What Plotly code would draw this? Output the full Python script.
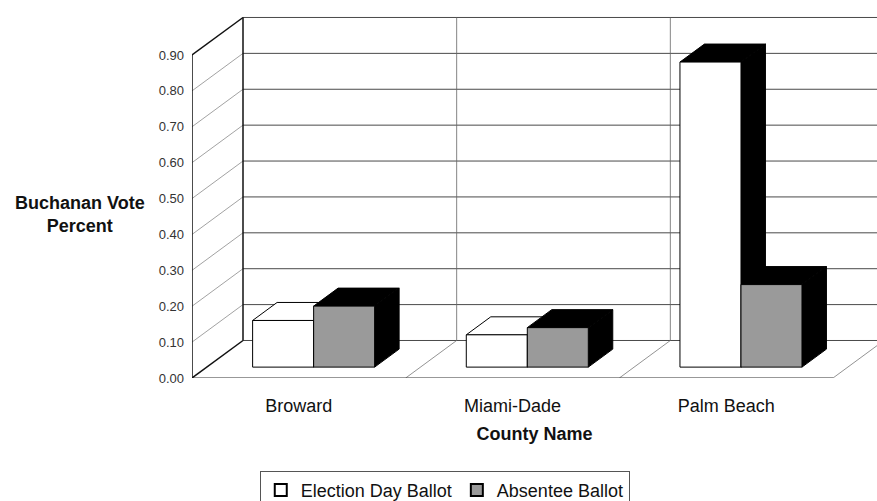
import plotly.graph_objects as go

# Buchanan share of the vote (percent) by county and ballot type
counties = ["Broward", "Miami-Dade", "Palm Beach"]
election_day = [0.13, 0.09, 0.85]
absentee = [0.17, 0.11, 0.23]
tick_values = [0.0, 0.1, 0.2, 0.3, 0.4, 0.5, 0.6, 0.7, 0.8, 0.9]
tick_labels = ["0.00", "0.10", "0.20", "0.30", "0.40", "0.50", "0.60", "0.70", "0.80", "0.90"]
series_names = ["Election Day Ballot", "Absentee Ballot"]

# ---- styling / geometry of the oblique 3-D frame ----
DX, DY = 0.2387, 0.1045          # shift of the back plane (x units, value units)
BAR_W = 0.2855                   # width of one column in category units
D0, D1 = 0.29, 0.77              # depth span of the columns (0 = front, 1 = back)
FRONT_COLORS = ["white", "#9a9a9a"]
TOP_COLORS = [["white", "white", "black"], ["black", "black", "black"]]
SIDE_COLOR = "black"
FONT = "Arial, Liberation Sans, sans-serif"

fig = go.Figure()


def proj(x, v, d):
    return x + d * DX, v + d * DY


def add_line(points, color, width=1.0):
    xs, ys = zip(*[proj(*p) for p in points])
    fig.add_trace(go.Scatter(x=list(xs), y=list(ys), mode="lines",
                             line=dict(color=color, width=width),
                             hoverinfo="skip", showlegend=False))


def add_face(points, fill):
    pts = [proj(*p) for p in points] + [proj(*points[0])]
    xs, ys = zip(*pts)
    fig.add_trace(go.Scatter(x=list(xs), y=list(ys), mode="lines", fill="toself",
                             fillcolor=fill, line=dict(color="black", width=1),
                             hoverinfo="skip", showlegend=False))


n = len(counties)
vmax = tick_values[-1]

# back wall gridlines
for v in tick_values:
    add_line([(0, v, 1), (n, v, 1)], "#4a4a4a", 1)
# side wall gridlines
for v in tick_values[1:-1]:
    add_line([(0, v, 0), (0, v, 1)], "#8a8a8a", 0.8)
# category dividers on floor and back wall
for k in range(1, n):
    add_line([(k, 0, 0), (k, 0, 1)], "#777777", 0.8)
    add_line([(k, 0, 1), (k, vmax, 1)], "#666666", 0.8)
# wall and floor edges
add_line([(n, 0, 0), (n, 0, 1)], "#777777", 0.8)
add_line([(0, 0, 0), (n, 0, 0)], "#333333", 1.2)
add_line([(0, 0, 0), (0, 0, 1)], "#111111", 1.5)
add_line([(0, 0, 0), (0, vmax, 0)], "#111111", 1.5)
add_line([(0, vmax, 0), (0, vmax, 1)], "#111111", 1.5)
add_line([(0, 0, 1), (0, vmax, 1)], "#111111", 1.5)

# columns
for i in range(n):
    for s, values in enumerate([election_day, absentee]):
        v = values[i]
        x0 = i + 0.5 - BAR_W + s * BAR_W
        x1 = x0 + BAR_W
        add_face([(x1, 0, D0), (x1, 0, D1), (x1, v, D1), (x1, v, D0)], SIDE_COLOR)
        add_face([(x0, v, D0), (x1, v, D0), (x1, v, D1), (x0, v, D1)], TOP_COLORS[s][i])
        add_face([(x0, 0, D0), (x1, 0, D0), (x1, v, D0), (x0, v, D0)], FRONT_COLORS[s])

# legend entries
for s, name in enumerate(series_names):
    fig.add_trace(go.Scatter(x=[None], y=[None], mode="markers", name=name,
                             marker=dict(symbol="square", size=13, color=FRONT_COLORS[s],
                                         line=dict(color="black", width=1))))

fig.add_annotation(text="<b>Buchanan Vote<br>Percent</b>", xref="paper", yref="paper",
                   x=-0.1635, y=0.448, xanchor="center", yanchor="middle",
                   showarrow=False, align="center",
                   font=dict(family=FONT, size=18, color="#111111"))

fig.update_layout(
    width=877, height=501,
    margin=dict(l=192, r=0, t=14, b=123, autoexpand=False),
    paper_bgcolor="white", plot_bgcolor="white",
    font=dict(family=FONT, color="#111111"),
    showlegend=True,
    legend=dict(orientation="h", x=0.369, xanchor="center", y=-0.255, yanchor="top",
                bordercolor="#555555", borderwidth=1, font=dict(size=18, color="#111111"),
                itemsizing="constant", tracegroupgap=0),
    xaxis=dict(range=[0, 685 / 213.67], showgrid=False, zeroline=False, showline=False,
               automargin=False,
               tickvals=[i + 0.5 for i in range(n)], ticktext=counties, ticks="",
               ticklabelstandoff=15, tickfont=dict(size=18, color="#111111"),
               title=dict(text="<b>County Name</b>", standoff=12,
                          font=dict(size=18, color="#111111"))),
    yaxis=dict(range=[0, 364 / 358.9], showgrid=False, zeroline=False, showline=False,
               automargin=False,
               tickvals=tick_values, ticktext=tick_labels, ticks="",
               ticklabelstandoff=7, tickfont=dict(size=13, color="#333333")),
)

fig.write_html("out.html")
